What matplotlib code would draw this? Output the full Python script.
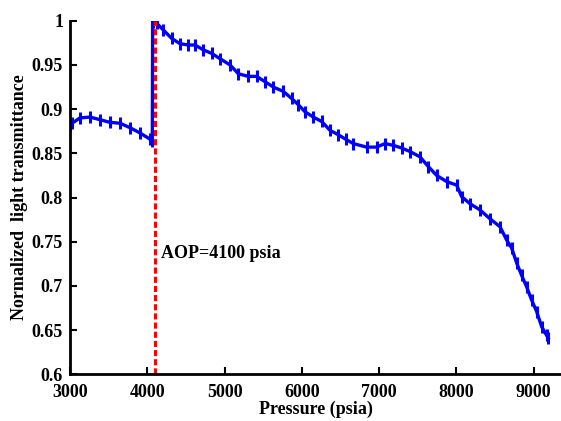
import numpy as np
import matplotlib
matplotlib.use("Agg")
import matplotlib.pyplot as plt
from matplotlib.ticker import FormatStrFormatter

plt.rcParams['font.family'] = ['Liberation Serif', 'DejaVu Serif']
plt.rcParams['font.weight'] = 'bold'

# pressure (psia) and normalized transmittance
pressure = [3000, 3026, 3129, 3259, 3388, 3517, 3647, 3776, 3906, 4035, 4065,
            4069, 4122, 4207, 4315, 4423, 4531, 4617, 4725, 4833, 4941,
            5070, 5178, 5307, 5415, 5523, 5630, 5760, 5868, 5954, 6040,
            6148, 6256, 6364, 6471, 6565, 6665, 6838, 6968, 7075, 7183,
            7291, 7399, 7528, 7636, 7744, 7873, 8003, 8067, 8175, 8304,
            8433, 8563, 8649, 8714, 8779, 8843, 8908, 8973, 9038, 9102,
            9167, 9188]
transmittance = [0.882, 0.884, 0.890, 0.891, 0.888, 0.885, 0.884, 0.879, 0.873, 0.866, 0.864,
                 0.999, 0.997, 0.9895, 0.980, 0.974, 0.9725, 0.9725, 0.967, 0.963, 0.957,
                 0.950, 0.940, 0.937, 0.937, 0.931, 0.925, 0.920, 0.912, 0.905, 0.897,
                 0.891, 0.886, 0.876, 0.871, 0.866, 0.861, 0.857, 0.857, 0.861, 0.859,
                 0.856, 0.852, 0.846, 0.835, 0.825, 0.818, 0.814, 0.801, 0.793, 0.786,
                 0.776, 0.767, 0.752, 0.743, 0.726, 0.712, 0.699, 0.684, 0.671, 0.654,
                 0.644, 0.641]
aop = 4100
xticks = [3000, 4000, 5000, 6000, 7000, 8000, 9000]
yticks = [0.6, 0.65, 0.7, 0.75, 0.8, 0.85, 0.9, 0.95, 1.0]

fig = plt.figure(figsize=(5.61, 4.21), dpi=100)
ax = fig.add_axes([70/561, 46.7/421, 1 - 70/561, 353.6/421])

ax.plot(pressure, transmittance, color='blue', lw=2.4,
        marker='|', markersize=8, markeredgewidth=2.2)
ax.plot([aop, aop], [0.6, 1.0], color='red', lw=2.2, ls=(0, (2, 1)))
ax.text(aop + 75, 0.737, 'AOP=4100 psia', fontsize=13, fontweight='bold',
        va='center', ha='left')

ax.set_xlim(3000, 9353)
ax.set_ylim(0.6, 1.0)
ax.set_xticks(xticks)
ax.set_yticks(yticks)
ax.yaxis.set_major_formatter(FormatStrFormatter('%g'))
ax.tick_params(direction='in', length=5, width=1.5, labelsize=13)
ax.tick_params(axis='y', pad=5)
ax.tick_params(axis='x', pad=7)
for s in ['top', 'right']:
    ax.spines[s].set_visible(False)
for s in ['left', 'bottom']:
    ax.spines[s].set_linewidth(2)

ax.set_xlabel('Pressure (psia)', fontsize=13, fontweight='bold', labelpad=0)
ax.set_ylabel('Normalized  light transmittance', fontsize=13, fontweight='bold', labelpad=3)

fig.savefig('out.png', dpi=100)
